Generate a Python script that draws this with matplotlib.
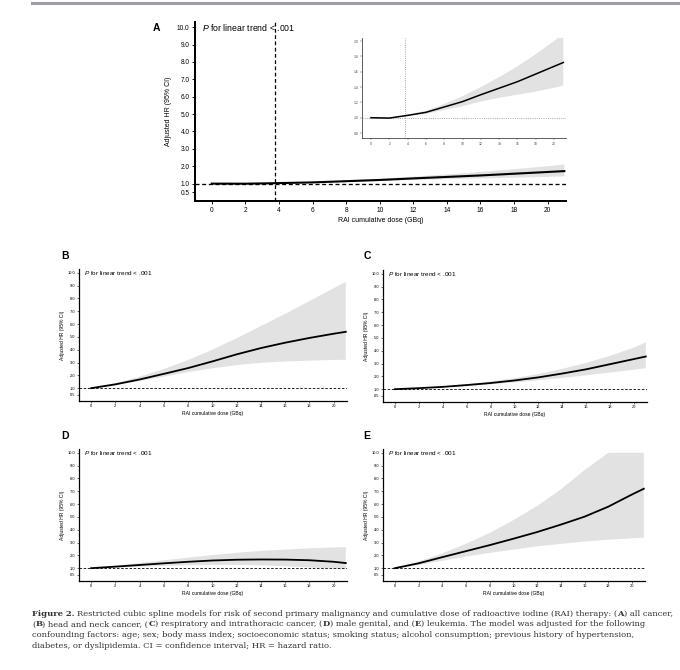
import numpy as np
import matplotlib
matplotlib.use('Agg')
import matplotlib.pyplot as plt
from matplotlib.lines import Line2D

plt.rcParams['font.family'] = ['Liberation Sans', 'DejaVu Sans']
plt.rcParams['mathtext.fontset'] = 'custom'
plt.rcParams['mathtext.it'] = 'Liberation Sans:italic'
plt.rcParams['mathtext.rm'] = 'Liberation Sans'

# ---- data ----
dose = [0, 2, 4, 6, 8, 10, 12, 14, 16, 18, 20, 21]

a_hr = [1.00, 0.995, 1.03, 1.07, 1.14, 1.21, 1.30, 1.385, 1.47, 1.57, 1.67, 1.72]
a_lo = [1.00, 0.99, 1.02, 1.05, 1.10, 1.15, 1.21, 1.26, 1.30, 1.34, 1.39, 1.42]
a_hi = [1.00, 1.00, 1.04, 1.09, 1.18, 1.28, 1.40, 1.53, 1.67, 1.83, 2.00, 2.10]

b_hr = [1.00, 1.30, 1.68, 2.12, 2.57, 3.09, 3.64, 4.13, 4.55, 4.92, 5.25, 5.40]
b_lo = [1.00, 1.25, 1.55, 1.90, 2.25, 2.55, 2.80, 2.98, 3.08, 3.15, 3.20, 3.22]
b_hi = [1.00, 1.38, 1.90, 2.50, 3.20, 4.00, 4.90, 5.85, 6.80, 7.80, 8.80, 9.30]

c_hr = [1.00, 1.08, 1.18, 1.32, 1.48, 1.68, 1.92, 2.22, 2.55, 2.95, 3.35, 3.55]
c_lo = [1.00, 1.06, 1.14, 1.25, 1.38, 1.53, 1.70, 1.88, 2.08, 2.30, 2.52, 2.64]
c_hi = [1.00, 1.10, 1.22, 1.40, 1.60, 1.86, 2.18, 2.58, 3.05, 3.60, 4.25, 4.65]

d_hr = [1.00, 1.12, 1.25, 1.38, 1.50, 1.60, 1.66, 1.68, 1.67, 1.62, 1.50, 1.40]
d_lo = [1.00, 1.05, 1.12, 1.18, 1.23, 1.26, 1.26, 1.22, 1.15, 1.06, 0.95, 0.90]
d_hi = [1.00, 1.20, 1.40, 1.62, 1.82, 2.02, 2.20, 2.35, 2.45, 2.55, 2.62, 2.65]

e_hr = [1.00, 1.38, 1.86, 2.33, 2.80, 3.30, 3.82, 4.40, 5.02, 5.80, 6.75, 7.20]
e_lo = [1.00, 1.25, 1.58, 1.90, 2.20, 2.45, 2.70, 2.90, 3.08, 3.22, 3.33, 3.38]
e_hi = [1.00, 1.52, 2.15, 2.90, 3.75, 4.75, 5.85, 7.15, 8.65, 10.0, 10.0, 10.0]

ref_dose = 3.75
yticks = [0.5, 1, 2, 3, 4, 5, 6, 7, 8, 9, 10]
ytick_labels = ['0.5', '1.0', '2.0', '3.0', '4.0', '5.0', '6.0', '7.0', '8.0', '9.0', '10.0']
xticks = list(range(0, 21, 2))
inset_yticks = [0.8, 1.0, 1.2, 1.4, 1.6, 1.8, 2.0]
ptext = r'$\mathit{P}$ for linear trend < .001'

band_col = '#e2e2e2'


def spline_panel(ax, hr, lo, hi, big=False):
    s = 1.6 if big else 1.0
    ax.fill_between(dose, np.minimum(lo, 10.0), np.minimum(hi, 10.0),
                    facecolor=band_col, edgecolor='none', zorder=1)
    ax.plot(dose, hr, 'k-', lw=1.5 if big else 1.3, zorder=3)
    ax.axhline(1.0, color='k', ls=(0, (3, 2)), lw=0.6 * s, zorder=2)
    ax.set_xlim(-1.0, 21.1)
    ax.set_ylim(0, 10.3)
    ax.set_xticks(xticks)
    ax.set_yticks(yticks)
    ax.set_yticklabels(ytick_labels)
    for side in ['top', 'right']:
        ax.spines[side].set_visible(False)
    for side in ['left', 'bottom']:
        ax.spines[side].set_linewidth(0.9 * s)
    ax.tick_params(labelsize=2.9 * s, length=1.5 * s, width=0.4 * s, pad=1.0 * s)
    ax.set_xlabel('RAI cumulative dose (GBq)', fontsize=3.6 * s, labelpad=1.5 * s)
    ax.set_ylabel('Adjusted HR (95% CI)', fontsize=3.6 * s, labelpad=2 * s)
    ax.text(-0.6, 10.0, ptext, fontsize=4.6 * s, va='center', ha='left')


fig = plt.figure(figsize=(6.8, 6.7), dpi=100)

# top rule
fig.add_artist(Line2D([32 / 680, 1.0], [1 - 2.5 / 670, 1 - 2.5 / 670],
                      color='#9d9dab', lw=2.2, transform=fig.transFigure))

# panel A
axA = fig.add_axes([195 / 680, 1 - 201 / 670, (566 - 195) / 680, (201 - 22) / 670])
spline_panel(axA, a_hr, a_lo, a_hi, big=True)
axA.texts[0].set_fontsize(6.3)
axA.tick_params(labelsize=4.7)
axA.xaxis.label.set_fontsize(5.0)
axA.yaxis.label.set_fontsize(5.0)
axA.axvline(ref_dose, color='k', ls=(0, (3, 2)), lw=0.9, zorder=2)

# inset of A
axI = fig.add_axes([362 / 680, 1 - 138 / 670, (566 - 362) / 680, (138 - 38) / 670])
axI.fill_between(dose, a_lo, a_hi, facecolor=band_col, edgecolor='none', zorder=1)
axI.plot(dose, a_hr, 'k-', lw=1.1, zorder=3)
axI.axhline(1.0, color='#888888', ls=':', lw=0.6, zorder=2)
axI.axvline(ref_dose, color='#888888', ls=':', lw=0.6, zorder=2)
axI.set_xlim(-0.98, 21.3)
axI.set_ylim(0.735, 2.04)
axI.set_xticks(xticks)
axI.set_yticks(inset_yticks)
axI.set_yticklabels(['%.1f' % v for v in inset_yticks])
for side in ['top', 'right']:
    axI.spines[side].set_visible(False)
for side in ['left', 'bottom']:
    axI.spines[side].set_linewidth(0.6)
    axI.spines[side].set_color('#444444')
axI.tick_params(labelsize=2.4, length=1.2, width=0.3, pad=1.5, colors='#444444')

# panels B-E
axB = fig.add_axes([79 / 680, 1 - 401 / 670, (347 - 79) / 680, 132 / 670])
spline_panel(axB, b_hr, b_lo, b_hi)
axC = fig.add_axes([383 / 680, 1 - 402 / 670, (647 - 383) / 680, 132 / 670])
spline_panel(axC, c_hr, c_lo, c_hi)
axD = fig.add_axes([79 / 680, 1 - 581 / 670, (347 - 79) / 680, 132 / 670])
spline_panel(axD, d_hr, d_lo, d_hi)
axE = fig.add_axes([383 / 680, 1 - 581 / 670, (645 - 383) / 680, 132 / 670])
spline_panel(axE, e_hr, e_lo, e_hi)

# panel letters
for lab, px, py in [('A', 156, 28), ('B', 65, 256), ('C', 367, 256),
                    ('D', 65, 436), ('E', 367, 436)]:
    fig.text(px / 680, 1 - py / 670, lab, fontsize=7.5, fontweight='bold',
             ha='center', va='center')

# caption with bold pieces
cap_lines = [
    [('Figure 2.', True), (' Restricted cubic spline models for risk of second primary malignancy '
                           'and cumulative dose of radioactive iodine (RAI) therapy: (', False),
     ('A', True), (') all cancer,', False)],
    [('(', False), ('B', True), (') head and neck cancer, (', False), ('C', True),
     (') respiratory and intrathoracic cancer, (', False), ('D', True),
     (') male genital, and (', False), ('E', True),
     (') leukemia. The model was adjusted for the following', False)],
    [('confounding factors: age; sex; body mass index; socioeconomic status; smoking status; '
      'alcohol consumption; previous history of hypertension,', False)],
    [('diabetes, or dyslipidemia. CI = confidence interval; HR = hazard ratio.', False)],
]
cap_y = [614, 624.5, 635, 645.5]
renderer = fig.canvas.get_renderer()


def draw_caption(size):
    font = dict(family=['DejaVu Serif'], fontsize=size, color='#333333')
    sp = fig.text(0, 0, 'a a', **font)
    sp2 = fig.text(0, 0, 'aa', **font)
    space_w = sp.get_window_extent(renderer).width - sp2.get_window_extent(renderer).width
    sp.remove()
    sp2.remove()
    made = []
    ends = []
    for pieces, yy in zip(cap_lines, cap_y):
        xpx = 32.0
        for txt, bold in pieces:
            if txt.startswith(' '):
                xpx += space_w
                txt = txt[1:]
            t = fig.text(xpx / 680, 1 - yy / 670, txt, ha='left', va='center',
                         fontweight='bold' if bold else 'normal', **font)
            made.append(t)
            xpx += t.get_window_extent(renderer).width
        ends.append(xpx)
    return made, ends


# first line of the caption runs to about x = 674 px in the reference
made, ends = draw_caption(6.5)
for t in made:
    t.remove()
draw_caption(6.5 * (674 - 32) / (ends[0] - 32))

fig.savefig('out.png', dpi=100)
